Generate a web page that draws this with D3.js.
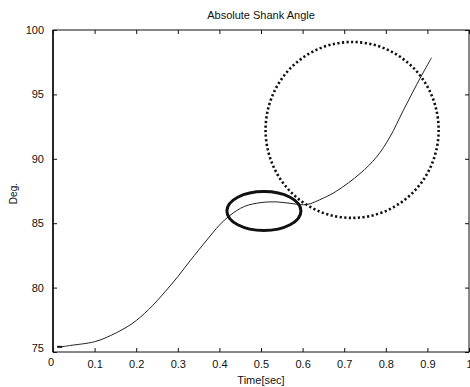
<!DOCTYPE html>
<html>
<head>
<meta charset="utf-8">
<script src="https://cdn.jsdelivr.net/npm/d3@7"></script>
<style>
  body { margin: 0; background: #fff; }
  svg { display: block; }
  text { font-family: "Liberation Sans", Arial, sans-serif; fill: #111; }
</style>
</head>
<body>
<div id="chart"></div>
<script>
const width = 470
const height = 387
const margins = ({
    top: 30,
    right: 1,
    bottom: 35,
    left: 53
})

// shank angle trace
const timeValues = [0.02, 0.04, 0.10, 0.14, 0.19, 0.23, 0.27, 0.30, 0.33, 0.37, 0.40, 0.425, 0.46, 0.50, 0.54, 0.58, 0.61, 0.65, 0.682, 0.738, 0.778, 0.81, 0.842, 0.884, 0.91]
const angleValues = [75.4, 75.5, 75.8, 76.3, 77.2, 78.3, 79.7, 80.85, 82.1, 83.7, 84.85, 85.6, 86.3, 86.6, 86.65, 86.5, 86.45, 86.95, 87.5, 88.85, 90.15, 91.7, 93.75, 96.35, 97.85]

const xTicks = [0, 0.1, 0.2, 0.3, 0.4, 0.5, 0.6, 0.7, 0.8, 0.9, 1]
const xTickLabels = ["0", "0.1", "0.2", "0.3", "0.4", "0.5", "0.6", "0.7", "0.8", "0.9", "1"]
const yTicks = [75, 80, 85, 90, 95, 100]

// hand-drawn annotations: [center time, center deg, radius time, radius deg]
const solidEllipse = [0.507, 85.95, 0.089, 1.51]
const dottedEllipse = [0.719, 92.24, 0.208, 6.83]

const svg = d3.select("#chart")
    .append("svg")
    .attr("width", width)
    .attr("height", height)

const x = d3.scaleLinear().domain([0, 1]).range([margins.left, width - margins.right])
const y = d3.scaleLinear().domain([75, 100]).range([height - margins.bottom, margins.top])

// frame
svg.append("rect")
    .attr("x", x(0))
    .attr("y", y(100))
    .attr("width", x(1) - x(0))
    .attr("height", y(75) - y(100))
    .attr("fill", "none")
    .attr("stroke", "#111")
    .attr("stroke-width", 1)
svg.append("line")
    .attr("x1", x(0)).attr("x2", x(0))
    .attr("y1", y(100)).attr("y2", y(75))
    .attr("stroke", "#111")
    .attr("stroke-width", 1.6)

// inward ticks, matlab style
const tickLen = 4
const xAxisBottom = d3.axisBottom(x).tickValues(xTicks).tickSizeInner(-tickLen).tickSizeOuter(0).tickFormat((d, i) => i == 0 ? "" : xTickLabels[i]).tickPadding(8)
const xAxisTop = d3.axisTop(x).tickValues(xTicks).tickSizeInner(-tickLen).tickSizeOuter(0).tickFormat("")
const yAxisLeft = d3.axisLeft(y).tickValues(yTicks).tickSizeInner(-tickLen).tickSizeOuter(0).tickPadding(9)
const yAxisRight = d3.axisRight(y).tickValues(yTicks).tickSizeInner(-tickLen).tickSizeOuter(0).tickFormat("")

function styleAxis(g) {
    g.select(".domain").remove()
    g.selectAll("line").attr("stroke", "#111")
    g.selectAll("text")
        .style("font-family", "'Liberation Sans', Arial, sans-serif")
        .style("font-size", "11px")
        .attr("fill", "#111")
}

svg.append("g").attr("transform", `translate(0,${y(75)})`).call(xAxisBottom).call(styleAxis)
svg.append("g").attr("transform", `translate(0,${y(100)})`).call(xAxisTop).call(styleAxis)
const leftAxis = svg.append("g").attr("transform", `translate(${x(0)},0)`).call(yAxisLeft).call(styleAxis)
svg.append("g").attr("transform", `translate(${x(1)},0)`).call(yAxisRight).call(styleAxis)

// matlab nudges the corner labels apart
leftAxis.selectAll(".tick text").filter(d => d == 75).attr("dy", "-0.05em")
svg.append("text")
    .text(xTickLabels[0])
    .attr("x", x(0) - 2)
    .attr("y", y(75) + 14)
    .attr("text-anchor", "middle")
    .style("font-size", "11px")

// the trace
const points = timeValues.map((t, i) => [t, angleValues[i]])
svg.append("path")
    .datum(points)
    .attr("d", d3.line().x(d => x(d[0])).y(d => y(d[1])).curve(d3.curveCatmullRom.alpha(0.5)))
    .attr("fill", "none")
    .attr("stroke", "#222")
    .attr("stroke-width", 1)
svg.append("line")
    .attr("x1", x(0.01)).attr("x2", x(0.022))
    .attr("y1", y(75.4)).attr("y2", y(75.4))
    .attr("stroke", "#111")
    .attr("stroke-width", 2)

// annotations
svg.append("ellipse")
    .attr("cx", x(solidEllipse[0]))
    .attr("cy", y(solidEllipse[1]))
    .attr("rx", x(solidEllipse[2]) - x(0))
    .attr("ry", y(75) - y(75 + solidEllipse[3]))
    .attr("fill", "none")
    .attr("stroke", "#111")
    .attr("stroke-width", 3)

svg.append("ellipse")
    .attr("cx", x(dottedEllipse[0]))
    .attr("cy", y(dottedEllipse[1]))
    .attr("rx", x(dottedEllipse[2]) - x(0))
    .attr("ry", y(75) - y(75 + dottedEllipse[3]))
    .attr("fill", "none")
    .attr("stroke", "#111")
    .attr("stroke-width", 2.6)
    .attr("stroke-dasharray", "2.2,2.4")

// labels
svg.append("text")
    .text("Absolute Shank Angle")
    .attr("x", x(0.5))
    .attr("y", 19)
    .attr("text-anchor", "middle")
    .style("font-size", "11px")
svg.append("text")
    .text("Time[sec]")
    .attr("x", x(0.5))
    .attr("y", 384)
    .attr("text-anchor", "middle")
    .style("font-size", "11px")
svg.append("text")
    .text("Deg.")
    .attr("transform", `translate(17,${y(87.3)}) rotate(-90)`)
    .attr("text-anchor", "middle")
    .style("font-size", "10px")
</script>
</body>
</html>
